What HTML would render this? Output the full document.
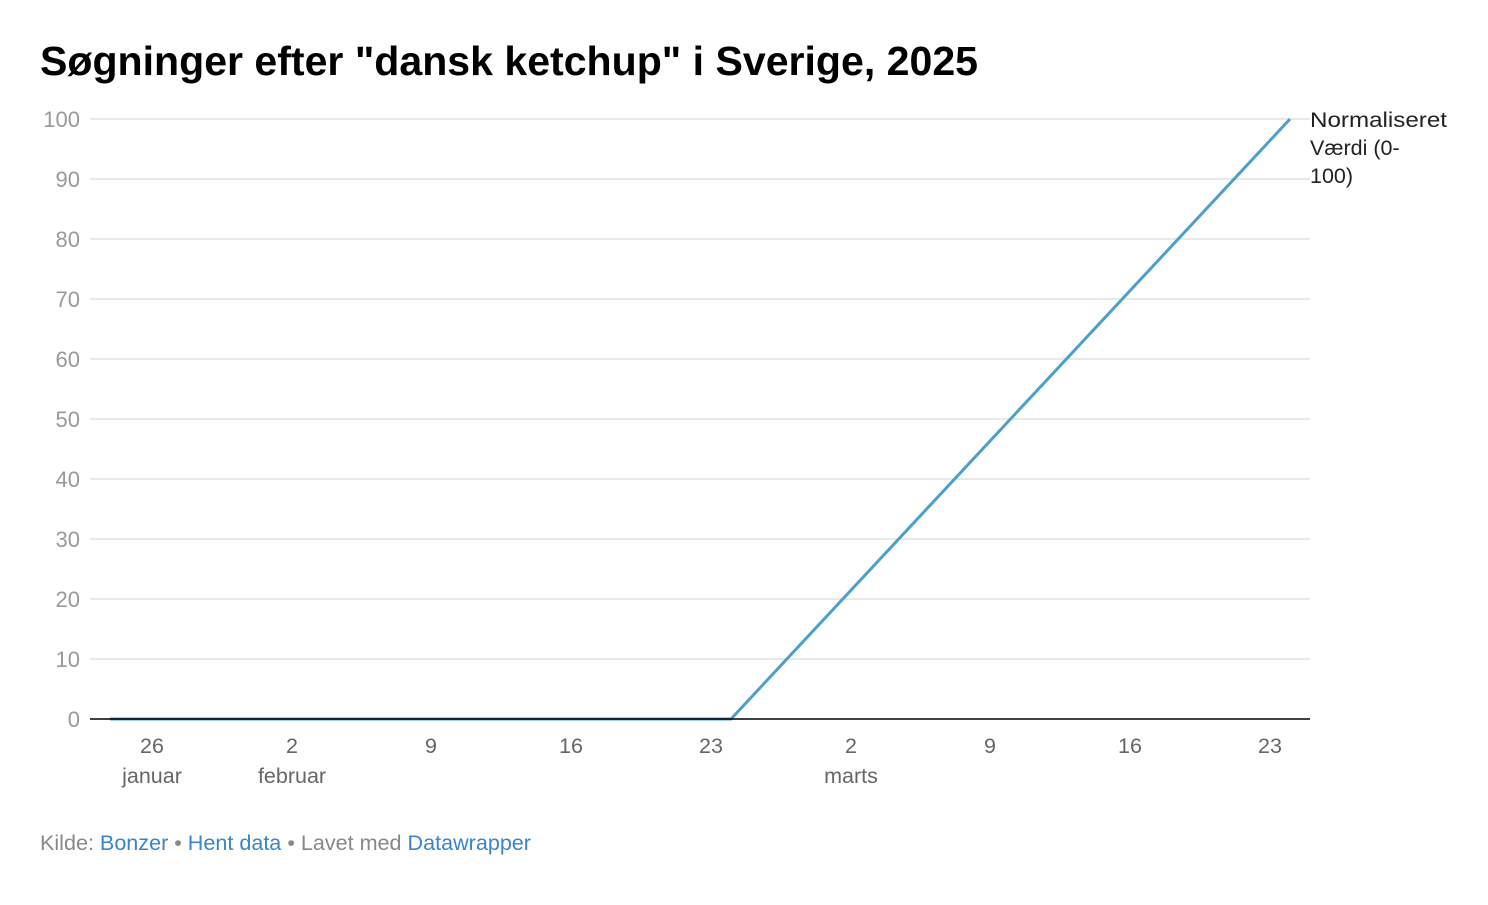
<!DOCTYPE html>
<html><head><meta charset="utf-8"><style>
body{margin:0;background:#fff;width:1488px;height:900px;overflow:hidden;font-family:"Liberation Sans",Arial,sans-serif}
</style></head><body>
<svg width="1488" height="900" xmlns="http://www.w3.org/2000/svg" font-family="Liberation Sans, Arial, sans-serif">
<text x="40" y="75" font-size="41" font-weight="bold" fill="#000" textLength="938" lengthAdjust="spacingAndGlyphs">Søgninger efter "dansk ketchup" i Sverige, 2025</text>
<g stroke="#e2e2e2" stroke-width="1.5">
<line x1="90" x2="1310" y1="119" y2="119"/><line x1="90" x2="1310" y1="179" y2="179"/>
<line x1="90" x2="1310" y1="239" y2="239"/><line x1="90" x2="1310" y1="299" y2="299"/>
<line x1="90" x2="1310" y1="359" y2="359"/><line x1="90" x2="1310" y1="419" y2="419"/>
<line x1="90" x2="1310" y1="479" y2="479"/><line x1="90" x2="1310" y1="539" y2="539"/>
<line x1="90" x2="1310" y1="599" y2="599"/><line x1="90" x2="1310" y1="659" y2="659"/>
</g>
<g font-size="22" fill="#999" text-anchor="end">
<text x="80" y="127">100</text><text x="80" y="187">90</text><text x="80" y="247">80</text>
<text x="80" y="307">70</text><text x="80" y="367">60</text><text x="80" y="427">50</text>
<text x="80" y="487">40</text><text x="80" y="547">30</text><text x="80" y="607">20</text>
<text x="80" y="667">10</text><text x="80" y="727">0</text>
</g>
<polyline points="110,719 731,719 1290,119" fill="none" stroke="#4aa0cb" stroke-width="3"/>
<line x1="90" x2="1310" y1="719" y2="719" stroke="#000" stroke-width="1.5"/>
<g font-size="21.5" fill="#666" text-anchor="middle">
<text x="152" y="753">26</text><text x="152" y="783">januar</text>
<text x="292" y="753">2</text><text x="292" y="783">februar</text>
<text x="431" y="753">9</text><text x="571" y="753">16</text><text x="711" y="753">23</text>
<text x="851" y="753">2</text><text x="851" y="783">marts</text>
<text x="990" y="753">9</text><text x="1130" y="753">16</text><text x="1270" y="753">23</text>
</g>
<g font-size="21.5" fill="#222">
<text x="1310" y="127" textLength="137" lengthAdjust="spacingAndGlyphs">Normaliseret</text><text x="1310" y="155">Værdi (0-</text><text x="1310" y="183">100)</text>
</g>
<text x="40" y="850" font-size="21" fill="#888" textLength="491" lengthAdjust="spacingAndGlyphs">Kilde: <tspan fill="#3a85c9">Bonzer</tspan> • <tspan fill="#3a85c9">Hent data</tspan> • Lavet med <tspan fill="#3a85c9">Datawrapper</tspan></text>
</svg>
</body></html>
